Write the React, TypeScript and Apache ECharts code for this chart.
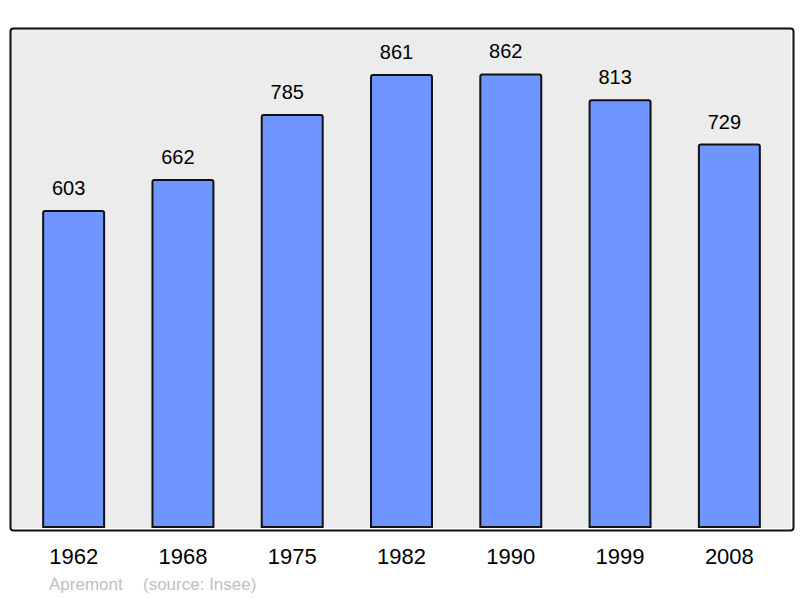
import React, { useEffect, useRef } from "react";
import * as echarts from "echarts";

const years = ["1962", "1968", "1975", "1982", "1990", "1999", "2008"];
const population = [603, 662, 785, 861, 862, 813, 729];
const footerPlace = "Apremont";
const footerSource = "(source: Insee)";

const FONT = "Liberation Sans, Arial, sans-serif";

export default function App() {
  const ref = useRef<HTMLDivElement>(null);
  useEffect(() => {
    if (!ref.current) return;
    const chart = echarts.init(ref.current, undefined, { renderer: "svg" });
    chart.setOption({
      animation: false,
      textStyle: { fontFamily: FONT },
      grid: { left: 19, right: 16, top: 27, bottom: 70, show: false },
      xAxis: {
        type: "category",
        data: years,
        axisLine: { show: false },
        axisTick: { show: false },
        axisLabel: { color: "#000", fontSize: 22, margin: 17, fontFamily: FONT },
      },
      yAxis: {
        type: "value",
        min: 0,
        max: 950,
        show: false,
        splitLine: { show: false },
      },
      graphic: [
        {
          type: "rect",
          left: 9,
          top: 27,
          shape: { width: 782, height: 501, r: 3 },
          style: { fill: "#ececec", stroke: "none" },
          z: -10,
        },
        {
          type: "rect",
          left: 8,
          top: 26,
          shape: { x: 0, y: 0, width: 783, height: 502, r: 3 },
          style: { fill: "none", stroke: "#111", lineWidth: 2 },
          z: 100,
        },
        {
          type: "text",
          left: 49,
          top: 576,
          style: { text: footerPlace, fill: "#c0c0c0", fontSize: 17, fontFamily: FONT },
        },
        {
          type: "text",
          left: 143,
          top: 576,
          style: { text: footerSource, fill: "#c0c0c0", fontSize: 17, fontFamily: FONT },
        },
      ],
      series: [
        {
          type: "bar",
          data: population,
          barWidth: "57.6%",
          itemStyle: { color: "#6f96ff", borderColor: "#111", borderWidth: 2, borderRadius: [2, 2, 0, 0] },
          label: {
            show: true,
            position: "top",
            distance: 12,
            offset: [-5, 0],
            color: "#000",
            fontSize: 20,
            fontFamily: FONT,
          },
        },
      ],
    });
    return () => chart.dispose();
  }, []);
  return <div ref={ref} style={{ width: 800, height: 598, position: "absolute", left: 0, top: 0 }} />;
}
